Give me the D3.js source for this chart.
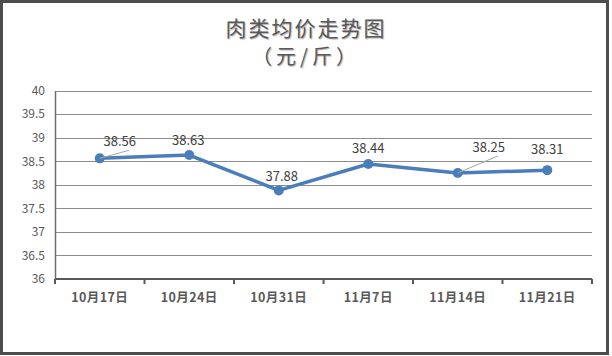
<!DOCTYPE html>
<html><head><meta charset="utf-8">
<script src="https://cdn.jsdelivr.net/npm/d3@7/dist/d3.min.js"></script>
<style>
html,body{margin:0;padding:0;background:#fff;}
svg{display:block;}
</style></head>
<body>
<svg id="c" width="612" height="356"></svg>
<script>
const categories = ["10月17日","10月24日","10月31日","11月7日","11月14日","11月21日"];
const values = [38.56, 38.63, 37.88, 38.44, 38.25, 38.31];
const valueLabels = ["38.56","38.63","37.88","38.44","38.25","38.31"];
const yTicks = [36, 36.5, 37, 37.5, 38, 38.5, 39, 39.5, 40];
const titleLines = ["肉类均价走势图", "（元/斤）"];

(function(){
const svg = d3.select("#c");
const pLeft = 55, pRight = 592, pTop = 90.5, pBottom = 279;
const x = d3.scaleBand().domain(categories).range([pLeft, pRight]);
const y = d3.scaleLinear().domain([36, 40]).range([pBottom, pTop]);
const txt = "#595959";
const font = "'Noto Sans CJK SC', 'Liberation Sans', sans-serif";

// frame
svg.append("rect").attr("x", 1.5).attr("y", 1.5).attr("width", 606).attr("height", 352)
  .attr("fill", "#fff").attr("stroke", "#4d4d4d").attr("stroke-width", 3);

// title
svg.append("text").attr("x", 306).attr("y", 36).attr("text-anchor", "middle")
  .attr("font-family", font).attr("font-size", 21).attr("letter-spacing", 2).attr("fill", txt)
  .style("text-shadow", "1px 1px 1px rgba(0,0,0,0.3)").text(titleLines[0]);
svg.append("text").attr("x", 306).attr("y", 64).attr("text-anchor", "middle")
  .attr("font-family", font).attr("font-size", 20).attr("letter-spacing", 4).attr("fill", txt)
  .style("text-shadow", "1px 1px 1px rgba(0,0,0,0.3)").text(titleLines[1]);

// gridlines
svg.append("g").selectAll("line").data(yTicks.filter(d => d !== 36)).join("line")
  .attr("x1", pLeft).attr("x2", pRight)
  .attr("y1", d => Math.round(y(d)) + 0.5).attr("y2", d => Math.round(y(d)) + 0.5)
  .attr("stroke", "#8c8c8c").attr("stroke-width", 1);

// y axis
const ya = svg.append("g").attr("transform", `translate(${pLeft},0)`)
  .call(d3.axisLeft(y).tickValues(yTicks).tickSize(0).tickPadding(10).tickFormat(d3.format("")));
ya.select(".domain").attr("stroke", "#6e6e6e").attr("stroke-width", 1.5);
ya.selectAll("text").attr("font-family", font).attr("font-size", 12).attr("fill", txt);

// x axis
const ticksX = categories.map(c => x(c)).concat([pRight]);
svg.append("line").attr("x1", pLeft).attr("x2", pRight).attr("y1", pBottom).attr("y2", pBottom)
  .attr("stroke", "#595959").attr("stroke-width", 2);
svg.append("g").selectAll("line").data(ticksX).join("line")
  .attr("x1", d => d).attr("x2", d => d).attr("y1", pBottom).attr("y2", pBottom + 5)
  .attr("stroke", "#595959").attr("stroke-width", 2);
svg.append("g").selectAll("text").data(categories).join("text")
  .attr("x", d => x(d) + x.bandwidth() / 2).attr("y", 301.5)
  .attr("text-anchor", "middle").attr("font-family", font).attr("font-size", 12.5)
  .attr("letter-spacing", 0.4)
  .attr("font-weight", "bold").attr("fill", txt).text(d => d);

// line
const pts = values.map((v, i) => [x(categories[i]) + x.bandwidth() / 2, y(v)]);
svg.append("path").datum(pts).attr("d", d3.line())
  .attr("fill", "none").attr("stroke", "#4a7ebb").attr("stroke-width", 3.5).attr("stroke-linejoin", "round");
svg.append("g").selectAll("circle").data(pts).join("circle")
  .attr("cx", d => d[0]).attr("cy", d => d[1]).attr("r", 5).attr("fill", "#4a7ebb");

// data labels (offsets relative to points)
const offs = [[20, -17], [-1, -15], [3, -14], [0, -16], [31, -26], [0, -21]];
const leaders = [0, 4];
leaders.forEach(i => {
  const p = pts[i];
  svg.append("line").attr("x1", p[0]).attr("y1", p[1])
    .attr("x2", p[0] + offs[i][0] + 9).attr("y2", p[1] + offs[i][1] + 9)
    .attr("stroke", "#a6a6a6").attr("stroke-width", 1);
});
svg.append("g").selectAll("text").data(pts).join("text")
  .attr("x", (d, i) => d[0] + offs[i][0]).attr("y", (d, i) => d[1] + offs[i][1])
  .attr("text-anchor", "middle").attr("dy", "0.35em")
  .attr("font-family", font).attr("font-size", 13).attr("fill", "#404040")
  .text((d, i) => valueLabels[i]);
})();
</script>
</body></html>
